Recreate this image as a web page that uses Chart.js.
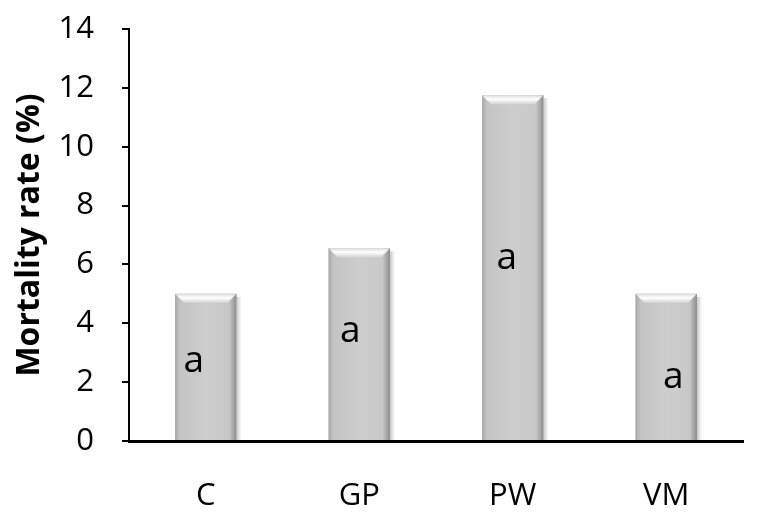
<!DOCTYPE html>
<html>
<head>
<meta charset="utf-8">
<script src="https://cdn.jsdelivr.net/npm/chart.js@4/dist/chart.umd.min.js"></script>
<style>
  html, body { margin: 0; padding: 0; background: #fff; }
  #wrap { width: 759px; height: 521px; }
</style>
</head>
<body>
<div id="wrap"><canvas id="chart"></canvas></div>
<script>
// data
const treatments = ['C', 'GP', 'PW', 'VM'];
const mortality = [5.0, 6.55, 11.75, 5.0];
const letters = ['a', 'a', 'a', 'a'];
// height (in % units) where each letter sits inside its bar
const letterLevels = [2.75, 3.75, 6.25, 2.2];
const yTicks = [0, 2, 4, 6, 8, 10, 12, 14];

const FONT = "'Open Sans', 'Liberation Sans', sans-serif";

// shading, bevel and letters on top of the library's bars
const bevelBars = {
  id: 'bevelBars',
  beforeDatasetsDraw(chart) {
    // soft shadow to the right of each bar
    const ctx = chart.ctx;
    const meta = chart.getDatasetMeta(0);
    ctx.save();
    meta.data.forEach(bar => {
      const r = bar.x + bar.width / 2;
      const g = ctx.createLinearGradient(r, 0, r + 5, 0);
      g.addColorStop(0, 'rgba(0,0,0,0.22)');
      g.addColorStop(1, 'rgba(0,0,0,0)');
      ctx.fillStyle = g;
      ctx.fillRect(r, bar.y + 3, 5, bar.base - bar.y - 3);
    });
    ctx.restore();
  },
  afterDatasetsDraw(chart) {
    const ctx = chart.ctx;
    const meta = chart.getDatasetMeta(0);
    ctx.save();
    meta.data.forEach(bar => {
      const l = bar.x - bar.width / 2, r = bar.x + bar.width / 2, t = bar.y, b = bar.base;
      const w = r - l;
      // horizontal shading
      const g = ctx.createLinearGradient(l, 0, r, 0);
      g.addColorStop(0, '#a8a8a8');
      g.addColorStop(0.08, '#c4c4c4');
      g.addColorStop(0.5, '#cdcdcd');
      g.addColorStop(0.88, '#c8c8c8');
      g.addColorStop(0.95, '#a6a6a6');
      g.addColorStop(1, '#8c8c8c');
      ctx.fillStyle = g;
      ctx.fillRect(l, t, w, b - t);
      // light top bevel
      const d = 9;
      const tg = ctx.createLinearGradient(0, t, 0, t + d);
      tg.addColorStop(0, '#dddddd');
      tg.addColorStop(0.45, '#ffffff');
      tg.addColorStop(1, '#d4d4d4');
      ctx.fillStyle = tg;
      ctx.beginPath();
      ctx.moveTo(l, t);
      ctx.lineTo(r, t);
      ctx.lineTo(r - d, t + d);
      ctx.lineTo(l + d, t + d);
      ctx.closePath();
      ctx.fill();
    });
    // significance letters
    const y = chart.scales.y;
    const shifts = [-12, -9, -6, 7];
    ctx.fillStyle = '#000';
    ctx.font = '37px ' + FONT;
    ctx.textAlign = 'center';
    ctx.textBaseline = 'middle';
    meta.data.forEach((bar, i) => {
      ctx.fillText(letters[i], bar.x + shifts[i], y.getPixelForValue(letterLevels[i]) + 1);
    });
    ctx.restore();
  }
};

new Chart(document.getElementById('chart'), {
  type: 'bar',
  data: {
    labels: treatments,
    datasets: [{
      data: mortality,
      backgroundColor: '#c8c8c8',
      borderWidth: 0,
      categoryPercentage: 1.0,
      barPercentage: 0.4
    }]
  },
  options: {
    responsive: true,
    maintainAspectRatio: false,
    animation: false,
    layout: { padding: { top: 29, right: 16, left: 0, bottom: 0 } },
    plugins: { legend: { display: false }, tooltip: { enabled: false } },
    scales: {
      x: {
        grid: { display: false },
        border: { color: '#000', width: 3 },
        ticks: { color: '#000', font: { family: FONT, size: 31 }, padding: 29 },
        afterFit(scale) { scale.height = 80; scale.paddingLeft = 0; scale.paddingRight = 0; }
      },
      y: {
        min: 0,
        max: 14,
        afterBuildTicks(scale) { scale.ticks = yTicks.map(v => ({ value: v })); },
        grid: { drawOnChartArea: false, drawTicks: true, tickLength: 7, color: '#000', lineWidth: 2 },
        border: { color: '#000', width: 2 },
        ticks: { color: '#000', font: { family: FONT, size: 31 }, padding: 28 },
        title: {
          display: true,
          text: 'Mortality rate (%)',
          color: '#000',
          font: { family: FONT, size: 32, weight: 'bold' },
          padding: { top: 11, bottom: 0 }
        },
        afterFit(scale) { scale.width = 129; scale.paddingTop = 0; scale.paddingBottom = 0; }
      }
    }
  },
  plugins: [bevelBars]
});
</script>
</body>
</html>
